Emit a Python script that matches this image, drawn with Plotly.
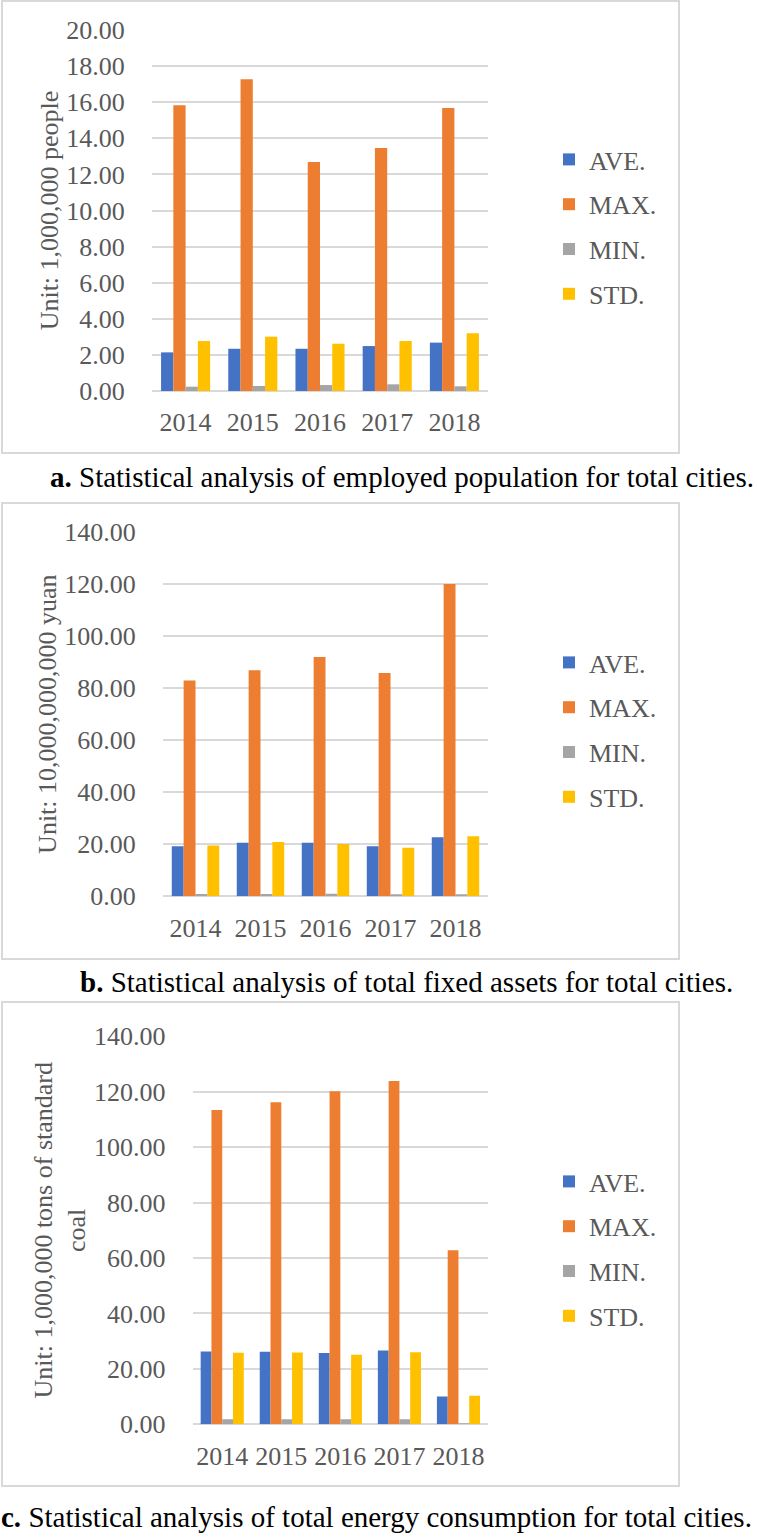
import plotly.graph_objects as go

years = ["2014", "2015", "2016", "2017", "2018"]
series_names = ["AVE.", "MAX.", "MIN.", "STD."]
colors = ["#4472C4", "#ED7D31", "#A5A5A5", "#FFC000"]

# Panel a: employed population (1,000,000 people)
emp_ave = [2.14, 2.34, 2.34, 2.49, 2.68]
emp_max = [15.83, 17.27, 12.69, 13.46, 15.68]
emp_min = [0.24, 0.28, 0.33, 0.37, 0.26]
emp_std = [2.77, 3.01, 2.62, 2.77, 3.20]

# Panel b: fixed assets (10,000,000,000 yuan)
fa_ave = [19.2, 20.6, 20.6, 19.2, 22.7]
fa_max = [82.9, 86.9, 92.0, 85.8, 120.0]
fa_min = [0.9, 0.9, 1.0, 0.8, 0.8]
fa_std = [19.5, 20.9, 20.1, 18.7, 23.1]

# Panel c: energy consumption (1,000,000 tons of standard coal)
en_ave = [26.3, 26.2, 25.7, 26.6, 10.0]
en_max = [113.4, 116.2, 120.2, 123.9, 62.8]
en_min = [1.8, 1.8, 1.8, 1.8, 0.2]
en_std = [25.8, 25.9, 25.1, 26.0, 10.3]

W, H = 757, 1537
FONT = "Liberation Serif"
GRAY = "#595959"
GRID = "#D9D9D9"

def px(x):
    return x / W

def py(y):
    return 1 - y / H

panels = [
    dict(data=[emp_ave, emp_max, emp_min, emp_std], rng=[0, 20], dtick=2,
         x0=152, x1=488, ytop=30, ybot=391,
         title="Unit: 1,000,000 people", box=(2, 1, 679, 453),
         legend_y=227, cap="<b>a.</b> Statistical analysis of employed population for total cities.",
         cap_x=402, cap_y=477),
    dict(data=[fa_ave, fa_max, fa_min, fa_std], rng=[0, 140], dtick=20,
         x0=163, x1=488, ytop=532, ybot=896.3,
         title="Unit: 10,000,000,000 yuan", box=(2, 503, 679, 959),
         legend_y=730, cap="<b>b.</b> Statistical analysis of total fixed assets for total cities.",
         cap_x=406, cap_y=982),
    dict(data=[en_ave, en_max, en_min, en_std], rng=[0, 140], dtick=20,
         x0=192.7, x1=488, ytop=1036.3, ybot=1424.3,
         title="Unit: 1,000,000 tons of standard<br>coal", box=(2, 1002, 679, 1486),
         legend_y=1249, cap="<b>c.</b> Statistical analysis of total energy consumption for total cities.",
         cap_x=376, cap_y=1517),
]

fig = go.Figure()
layout = dict(
    width=W, height=H, autosize=False,
    margin=dict(l=0, r=0, t=0, b=0, pad=0, autoexpand=False),
    paper_bgcolor="white", plot_bgcolor="white",
    barmode="group", bargap=0.27, bargroupgap=0,
    font=dict(family=FONT, color=GRAY, size=26),
    shapes=[], annotations=[],
)

for i, p in enumerate(panels):
    n = "" if i == 0 else str(i + 1)
    leg = "legend" if i == 0 else f"legend{i+1}"
    for name, vals, col in zip(series_names, p["data"], colors):
        fig.add_trace(go.Bar(
            x=years, y=vals, name=name, marker=dict(color=col, line=dict(width=0)),
            xaxis="x" + n, yaxis="y" + n, legend=leg, legendgroup=f"{i}-{name}",
            showlegend=True,
        ))
    layout["xaxis" + n] = dict(
        domain=[px(p["x0"]), px(p["x1"])], anchor="y" + n, type="category",
        showgrid=False, showline=False, zeroline=False, automargin=False,
        ticks="outside", ticklen=8, tickcolor="rgba(0,0,0,0)",
        tickfont=dict(family=FONT, size=26, color=GRAY),
    )
    layout["yaxis" + n] = dict(
        domain=[py(p["ybot"]), py(p["ytop"])], anchor="x" + n,
        range=p["rng"], dtick=p["dtick"], tickformat=".2f", automargin=False,
        showgrid=True, gridcolor=GRID, gridwidth=1.5,
        zeroline=True, zerolinecolor=GRID, zerolinewidth=1.5, showline=False,
        ticks="outside", ticklen=21, tickcolor="rgba(0,0,0,0)",
        tickfont=dict(family=FONT, size=26, color=GRAY),
        title=dict(text=p["title"], font=dict(family=FONT, size=26, color=GRAY), standoff=0),
    )
    layout[leg] = dict(
        x=px(549), xanchor="left", y=py(p["legend_y"]), yanchor="middle",
        font=dict(family=FONT, size=26, color=GRAY),
        tracegroupgap=8, traceorder="grouped", bgcolor="rgba(0,0,0,0)",
    )
    bx0, by0, bx1, by1 = p["box"]
    layout["shapes"].append(dict(
        type="rect", xref="paper", yref="paper",
        x0=px(bx0), x1=px(bx1), y0=py(by1), y1=py(by0),
        line=dict(color=GRID, width=2), fillcolor="rgba(0,0,0,0)", layer="below",
    ))
    layout["annotations"].append(dict(
        text=p["cap"], xref="paper", yref="paper", x=px(p["cap_x"]), y=py(p["cap_y"]),
        xanchor="center", yanchor="middle", showarrow=False,
        font=dict(family=FONT, size=29, color="black"),
    ))

fig.update_layout(**layout)
fig.write_html("out.html", config={"displayModeBar": False},
               post_script="document.body.style.margin='0';")
